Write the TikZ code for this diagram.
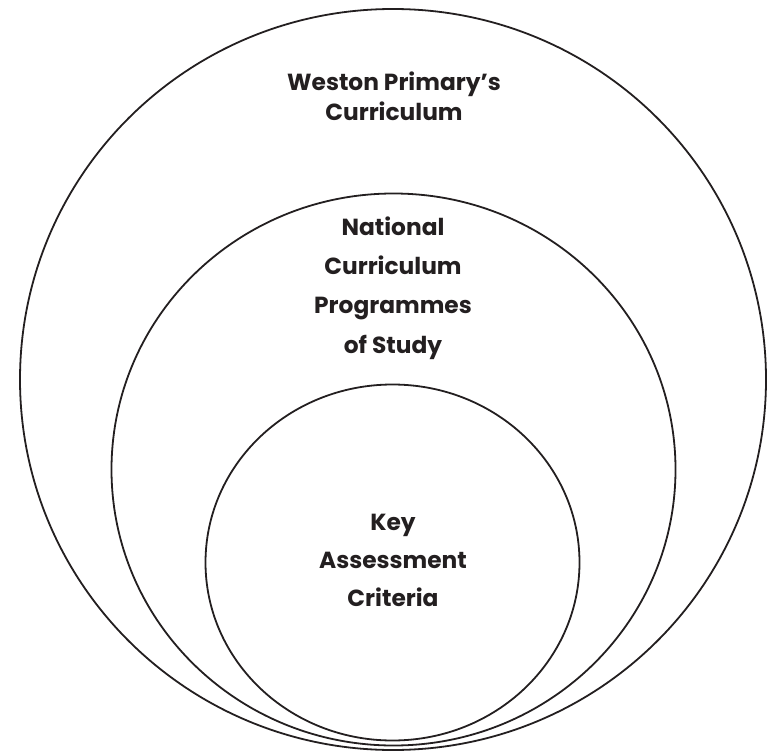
\documentclass[tikz,border=0pt]{standalone}
\usepackage{fontspec}
\setmainfont{Poppins}
\begin{document}
\begin{tikzpicture}[x=1pt,y=-1pt,
  ring/.style={draw=ink,line width=1.8pt},
  lbl/.style={text=ink,align=center,inner sep=0pt,anchor=base}]
\definecolor{ink}{HTML}{231F20}
\useasboundingbox (0,0) rectangle (767,751);
\draw[ring] (393,379.5) ellipse [x radius=373,y radius=370.5];
\draw[ring] (393.5,469.5) ellipse [x radius=282,y radius=276];
\draw[ring] (392.5,562.5) ellipse [x radius=187,y radius=178];
\node[lbl,font=\bfseries\fontsize{23.3}{30}\selectfont] (w) at (394,121) {Weston Primary’s\\Curriculum};
\node[lbl,font=\bfseries\fontsize{23.3}{39.3}\selectfont] (n) at (393,353) {National\\Curriculum\\Programmes\\of Study};
\node[lbl,font=\bfseries\fontsize{23.3}{38}\selectfont] (k) at (393,606) {Key\\Assessment\\Criteria};
\end{tikzpicture}
\end{document}
